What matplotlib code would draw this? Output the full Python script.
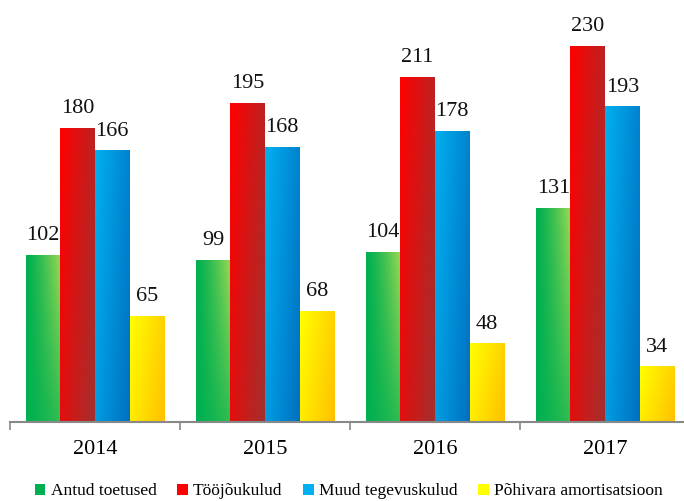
import numpy as np
import matplotlib.pyplot as plt
from matplotlib.colors import LinearSegmentedColormap
from matplotlib.patches import Patch

years = ['2014', '2015', '2016', '2017']
series = ['Antud toetused', 'Tööjõukulud', 'Muud tegevuskulud', 'Põhivara amortisatsioon']
toetused = [102, 99, 104, 131]
toojoukulud = [180, 195, 211, 230]
muud = [166, 168, 178, 193]
amortisatsioon = [65, 68, 48, 34]

values = [toetused, toojoukulud, muud, amortisatsioon]
# gradient start/end colours per series
grads = [('#00B050', '#8ED553'), ('#FF0000', '#A2302E'),
         ('#00B0F0', '#0070C0'), ('#FFFF00', '#FFC000')]

plt.rcParams['font.family'] = ['Liberation Serif', 'DejaVu Serif']

fig = plt.figure(figsize=(6.84, 5.01), dpi=100)
ax = fig.add_axes([10 / 684, 79 / 501, 680 / 684, 409 / 501])

x = np.arange(len(years))
w = 0.203
offsets = [-1.5 * w, -0.5 * w, 0.5 * w, 1.5 * w]

u, v = np.meshgrid(np.linspace(0, 1, 50), np.linspace(0, 1, 200))
for i, vals in enumerate(values):
    cmap = LinearSegmentedColormap.from_list('g%d' % i, grads[i])
    if i == 0:
        t = np.clip(u ** 1.3 * (0.35 + 0.75 * v), 0, 1)
    else:
        t = 0.7 * u + 0.3 * (1 - v)
    bars = ax.bar(x + offsets[i], vals, w, color=grads[i][0], linewidth=0)
    for b, val in zip(bars, vals):
        x0, y0 = b.get_x(), b.get_y()
        im = ax.imshow(t, cmap=cmap, aspect='auto', origin='lower',
                       extent=[x0, x0 + b.get_width(), y0, y0 + b.get_height()],
                       vmin=0, vmax=1, zorder=2)
        im.set_clip_path(b)
        b.set_facecolor('none')
        ax.annotate(str(val), (x0 + b.get_width() / 2, val), xytext=(0, 7),
                    textcoords='offset points', ha='center', va='bottom',
                    fontsize=16, color='#111111')

ax.set_xlim(-0.5, 3.5)
ax.set_ylim(0, 250)
ax.set_xticks(x)
ax.set_xticklabels(years, fontsize=16)
ax.set_xticks(np.arange(-0.5, 4, 1), minor=True)
ax.tick_params(axis='x', which='major', length=0, pad=13)
ax.tick_params(axis='x', which='minor', length=6, color='#888888', width=1.2)
ax.set_yticks([])
for s in ['top', 'right', 'left']:
    ax.spines[s].set_visible(False)
ax.spines['bottom'].set_color('#888888')
ax.spines['bottom'].set_linewidth(1.5)

handles = [Patch(facecolor=g[0], label=s) for g, s in zip(grads, series)]
fig.legend(handles=handles, loc='lower center', bbox_to_anchor=(0.51, -0.028),
           ncol=4, frameon=False, fontsize=12.5, handlelength=0.6,
           handleheight=0.6, handletextpad=0.3, columnspacing=1.2)

fig.savefig('out.png', dpi=100)
